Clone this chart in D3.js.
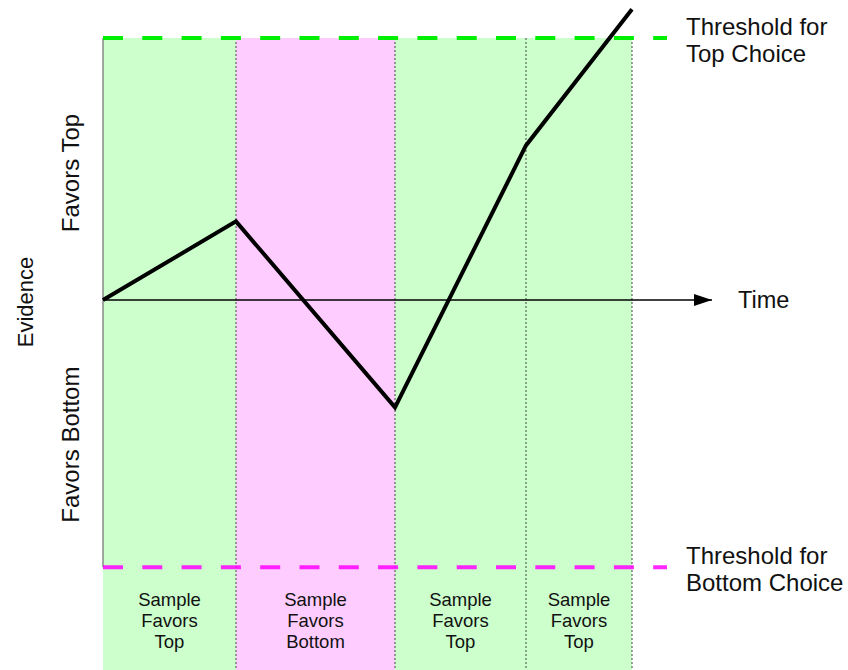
<!DOCTYPE html>
<html>
<head>
<meta charset="utf-8">
<script src="https://cdn.jsdelivr.net/npm/d3@7"></script>
<style>
  body { margin: 0; background: #fff; }
  text { font-family: "Liberation Sans", Arial, sans-serif; fill: #111; }
</style>
</head>
<body>
<div class="svg-container"></div>
<script>
// samples: cumulative time at each band edge, and evidence after each sample
const bandEdges = [0, 1.33, 2.92, 4.23, 5.29];
const bandFavors = ['Top', 'Bottom', 'Top', 'Top'];
const pathTimes = [0, 1.33, 2.92, 4.23, 5.29];
const pathEvidence = [0, 0.30, -0.41, 0.59, 1.11];
const topThreshold = 1.0;
const bottomThreshold = -1.02;
const timeEnd = 6.09;
const thresholdEnd = 5.64;

const width = 848;
const height = 670;

const x = d3.scaleLinear().domain([0, 1]).range([103, 203]);
const y = d3.scaleLinear().domain([0, 1]).range([300, 38]);

const svg = d3.select('.svg-container')
  .append('svg')
  .attr('width', width)
  .attr('height', height);

const defs = svg.append('defs');
defs.append('marker')
  .attr('id', 'arrow')
  .attr('viewBox', '0 0 18 12')
  .attr('refX', 18)
  .attr('refY', 6)
  .attr('markerWidth', 18)
  .attr('markerHeight', 12)
  .attr('markerUnits', 'userSpaceOnUse')
  .attr('orient', 'auto')
  .append('path')
  .attr('d', 'M0,0L18,6L0,12Z')
  .attr('fill', '#000');

const bands = d3.range(bandFavors.length).map(i => ({
  t0: bandEdges[i], t1: bandEdges[i + 1], favors: bandFavors[i]
}));

// background bands
svg.selectAll('.band')
  .data(bands)
  .enter()
  .append('rect')
  .attr('class', 'band')
  .attr('x', d => x(d.t0))
  .attr('y', y(topThreshold))
  .attr('width', d => x(d.t1) - x(d.t0))
  .attr('height', height - y(topThreshold))
  .attr('fill', d => d.favors === 'Top' ? '#ccffcc' : '#ffccff');

// dotted separators
svg.selectAll('.sep')
  .data(bandEdges.slice(1))
  .enter()
  .append('line')
  .attr('x1', d => x(d))
  .attr('x2', d => x(d))
  .attr('y1', y(topThreshold))
  .attr('y2', height)
  .attr('stroke', '#444')
  .attr('stroke-width', 1)
  .attr('stroke-dasharray', '2,2');

// left edge
svg.append('line')
  .attr('x1', x(0)).attr('x2', x(0))
  .attr('y1', y(topThreshold)).attr('y2', y(bottomThreshold))
  .attr('stroke', '#888')
  .attr('stroke-width', 1.5);

// thresholds
svg.append('line')
  .attr('x1', x(0)).attr('x2', x(thresholdEnd))
  .attr('y1', y(topThreshold)).attr('y2', y(topThreshold))
  .attr('stroke', '#00ee00')
  .attr('stroke-width', 4)
  .attr('stroke-dasharray', '20,19.3');

svg.append('line')
  .attr('x1', x(0)).attr('x2', x(thresholdEnd))
  .attr('y1', y(bottomThreshold)).attr('y2', y(bottomThreshold))
  .attr('stroke', '#ff00ff')
  .attr('stroke-opacity', 0.85)
  .attr('stroke-width', 4)
  .attr('stroke-dasharray', '20,19.3');

// time axis
svg.append('line')
  .attr('x1', x(0)).attr('x2', x(timeEnd))
  .attr('y1', y(0)).attr('y2', y(0))
  .attr('stroke', '#000')
  .attr('stroke-width', 1.5)
  .attr('marker-end', 'url(#arrow)');

// evidence path
const pts = pathTimes.map((t, i) => [t, pathEvidence[i]]);
svg.append('path')
  .datum(pts)
  .attr('d', d3.line().x(d => x(d[0])).y(d => y(d[1])))
  .attr('fill', 'none')
  .attr('stroke', '#000')
  .attr('stroke-width', 4)
  .attr('stroke-linejoin', 'miter');

// labels
svg.append('text')
  .attr('x', 738).attr('y', y(0) + 8)
  .attr('font-size', 23.5)
  .text('Time');

const thr = [
  { lines: ['Threshold for', 'Top Choice'], v: topThreshold },
  { lines: ['Threshold for', 'Bottom Choice'], v: bottomThreshold }
];
thr.forEach(d => {
  const t = svg.append('text')
    .attr('x', 686)
    .attr('y', y(d.v) - 3)
    .attr('font-size', 24);
  d.lines.forEach((l, i) => t.append('tspan').attr('x', 686).attr('dy', i ? 27 : 0).text(l));
});

svg.append('text')
  .attr('transform', `translate(33,${y(0) + 2}) rotate(-90)`)
  .attr('text-anchor', 'middle')
  .attr('font-size', 22)
  .text('Evidence');

svg.append('text')
  .attr('transform', `translate(79,${(y(topThreshold) + y(0)) / 2 + 4}) rotate(-90)`)
  .attr('text-anchor', 'middle')
  .attr('font-size', 24)
  .text('Favors Top');

svg.append('text')
  .attr('transform', `translate(79,${(y(bottomThreshold) + y(0)) / 2 + 11}) rotate(-90)`)
  .attr('text-anchor', 'middle')
  .attr('font-size', 24)
  .text('Favors Bottom');

svg.selectAll('.blabel')
  .data(bands)
  .enter()
  .append('text')
  .attr('text-anchor', 'middle')
  .attr('font-size', 18.5)
  .each(function(d) {
    const cx = (x(d.t0) + x(d.t1)) / 2;
    ['Sample', 'Favors', d.favors].forEach((l, i) => {
      d3.select(this).append('tspan')
        .attr('x', cx)
        .attr('y', 606 + i * 21)
        .text(l);
    });
  });
</script>
</body>
</html>
